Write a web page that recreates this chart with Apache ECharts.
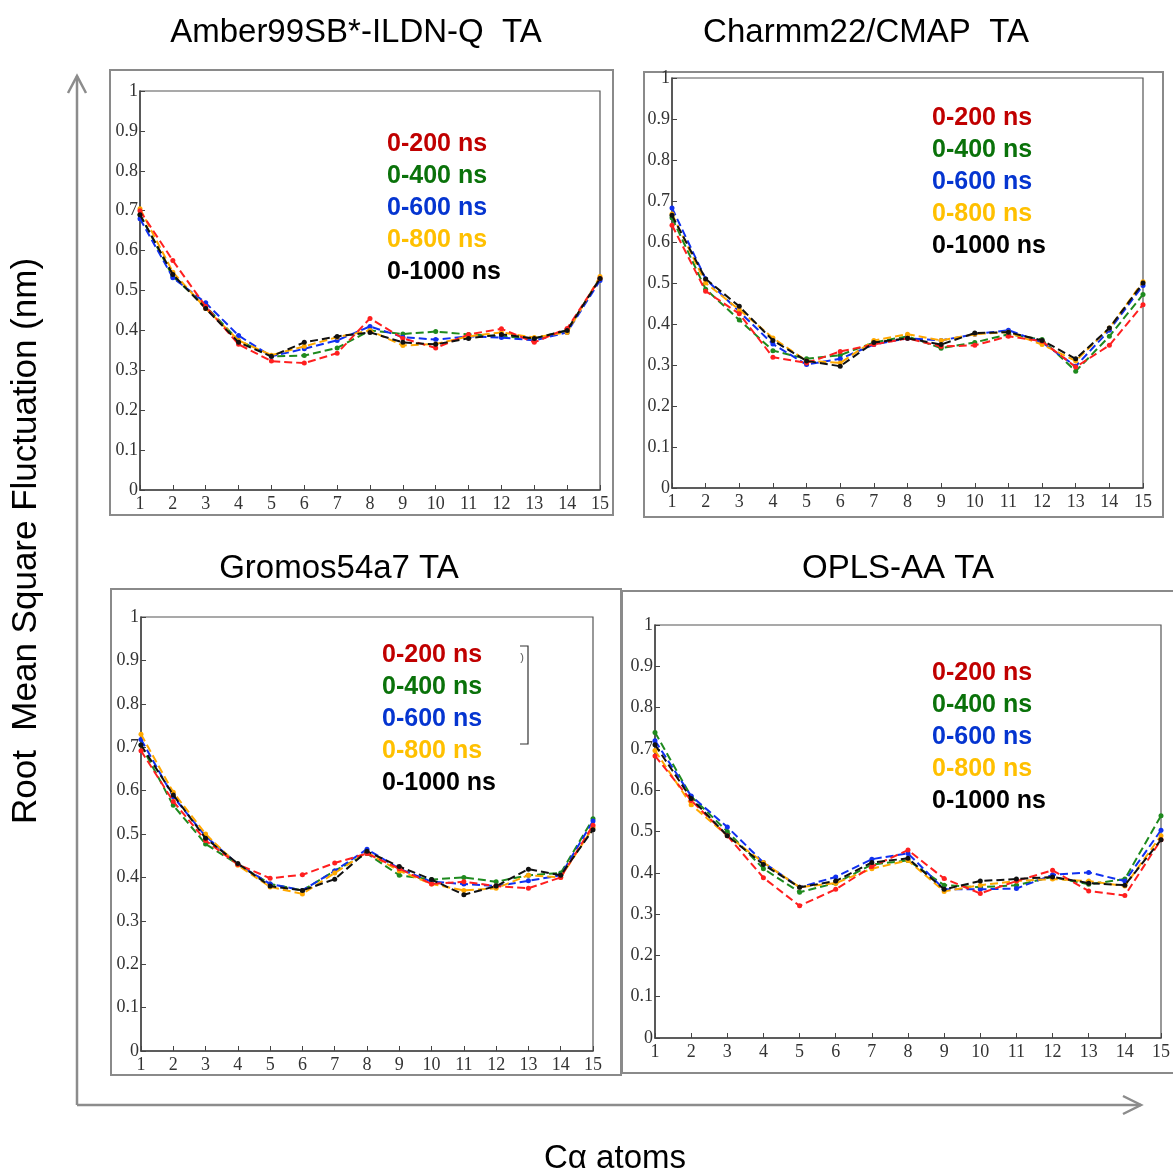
<!DOCTYPE html>
<html>
<head>
<meta charset="utf-8">
<script src="https://cdn.jsdelivr.net/npm/echarts@6/dist/echarts.min.js"></script>
<style>
  html, body { margin: 0; padding: 0; background: #ffffff; }
  #chart { width: 1173px; height: 1176px; }
</style>
</head>
<body>
<div id="chart"></div>
<script>
// Cα atom index along the peptide
const atoms = [1, 2, 3, 4, 5, 6, 7, 8, 9, 10, 11, 12, 13, 14, 15];
// Averaging windows
const periods = ['0-200 ns', '0-400 ns', '0-600 ns', '0-800 ns', '0-1000 ns'];
const panelTitles = ['Amber99SB*-ILDN-Q  TA', 'Charmm22/CMAP  TA', 'Gromos54a7 TA', 'OPLS-AA TA'];
const axisTitleY = 'Root  Mean Square Fluctuation (nm)';
const axisTitleX = 'Cα atoms';

// RMSF (nm) — Amber99SB*-ILDN-Q
const amber200  = [0.700, 0.575, 0.460, 0.365, 0.323, 0.318, 0.343, 0.430, 0.380, 0.356, 0.390, 0.404, 0.370, 0.405, 0.530];
const amber400  = [0.690, 0.535, 0.460, 0.375, 0.335, 0.337, 0.356, 0.400, 0.391, 0.397, 0.390, 0.385, 0.380, 0.400, 0.530];
const amber600  = [0.680, 0.532, 0.469, 0.387, 0.335, 0.354, 0.375, 0.410, 0.383, 0.377, 0.385, 0.382, 0.375, 0.395, 0.525];
const amber800  = [0.705, 0.546, 0.455, 0.375, 0.338, 0.360, 0.383, 0.400, 0.362, 0.366, 0.385, 0.395, 0.382, 0.395, 0.535];
const amber1000 = [0.690, 0.540, 0.455, 0.370, 0.335, 0.370, 0.385, 0.395, 0.370, 0.365, 0.380, 0.390, 0.380, 0.400, 0.530];

// RMSF (nm) — Charmm22/CMAP
const charmm200  = [0.641, 0.480, 0.425, 0.319, 0.305, 0.333, 0.350, 0.365, 0.345, 0.348, 0.370, 0.358, 0.295, 0.348, 0.447];
const charmm400  = [0.659, 0.485, 0.410, 0.335, 0.315, 0.324, 0.355, 0.370, 0.341, 0.355, 0.375, 0.362, 0.285, 0.370, 0.472];
const charmm600  = [0.683, 0.510, 0.430, 0.351, 0.301, 0.315, 0.350, 0.365, 0.360, 0.375, 0.385, 0.355, 0.297, 0.385, 0.494];
const charmm800  = [0.668, 0.500, 0.435, 0.366, 0.310, 0.305, 0.360, 0.375, 0.360, 0.375, 0.380, 0.350, 0.310, 0.390, 0.503];
const charmm1000 = [0.665, 0.510, 0.443, 0.360, 0.310, 0.297, 0.355, 0.365, 0.350, 0.378, 0.380, 0.360, 0.315, 0.390, 0.500];

// RMSF (nm) — Gromos54a7
const gromos200  = [0.692, 0.575, 0.485, 0.430, 0.398, 0.406, 0.433, 0.455, 0.420, 0.385, 0.390, 0.380, 0.375, 0.400, 0.520];
const gromos400  = [0.705, 0.566, 0.477, 0.430, 0.385, 0.370, 0.415, 0.455, 0.405, 0.395, 0.400, 0.390, 0.405, 0.410, 0.535];
const gromos600  = [0.718, 0.586, 0.495, 0.430, 0.385, 0.370, 0.415, 0.465, 0.420, 0.390, 0.385, 0.380, 0.392, 0.405, 0.530];
const gromos800  = [0.730, 0.596, 0.500, 0.428, 0.378, 0.362, 0.410, 0.458, 0.415, 0.385, 0.370, 0.375, 0.405, 0.400, 0.515];
const gromos1000 = [0.705, 0.590, 0.490, 0.432, 0.380, 0.370, 0.396, 0.460, 0.425, 0.395, 0.360, 0.380, 0.419, 0.405, 0.510];

// RMSF (nm) — OPLS-AA
const opls200  = [0.683, 0.575, 0.490, 0.388, 0.320, 0.360, 0.415, 0.455, 0.386, 0.350, 0.380, 0.406, 0.356, 0.345, 0.480];
const opls400  = [0.740, 0.585, 0.500, 0.410, 0.353, 0.375, 0.420, 0.430, 0.370, 0.365, 0.370, 0.390, 0.372, 0.385, 0.538];
const opls600  = [0.720, 0.586, 0.511, 0.425, 0.365, 0.390, 0.433, 0.447, 0.360, 0.360, 0.362, 0.395, 0.401, 0.380, 0.503];
const opls800  = [0.696, 0.565, 0.490, 0.425, 0.365, 0.375, 0.410, 0.430, 0.355, 0.370, 0.380, 0.385, 0.380, 0.368, 0.490];
const opls1000 = [0.710, 0.580, 0.490, 0.420, 0.365, 0.380, 0.425, 0.435, 0.360, 0.380, 0.385, 0.390, 0.375, 0.370, 0.480];

const panelSeries = [
  [amber200, amber400, amber600, amber800, amber1000],
  [charmm200, charmm400, charmm600, charmm800, charmm1000],
  [gromos200, gromos400, gromos600, gromos800, gromos1000],
  [opls200, opls400, opls600, opls800, opls1000]
];

const lineColors  = ['#ff1f1f', '#1e8a1e', '#1030f0', '#ffa800', '#111111'];
const labelColors = ['#c00000', '#0a720a', '#0535d0', '#ffc000', '#000000'];

// Plot areas (px) for the four panels
const grids = [
  { left: 140, top: 91,  width: 460, height: 399 },
  { left: 672, top: 78,  width: 471, height: 410 },
  { left: 141, top: 617, width: 452, height: 434 },
  { left: 655, top: 625, width: 508, height: 413 }
];
// Frames around each panel
const frames = [
  { x: 110, y: 70,  w: 503, h: 445 },
  { x: 644, y: 72,  w: 519, h: 445 },
  { x: 111, y: 589, w: 510, h: 486 },
  { x: 622, y: 591, w: 560, h: 482 }
];
const titlePos  = [[356, 33], [866, 33], [339, 569], [898, 569]];
const legendPos = [[387, 144], [932, 118], [382, 655], [932, 673]];
const legendStep = 32;

const tickFont = { fontFamily: 'Liberation Serif', fontSize: 18, color: '#333333' };

const gridOpts = [], xAxes = [], yAxes = [], series = [], graphics = [];

grids.forEach((g, i) => {
  gridOpts.push({
    left: g.left, top: g.top, width: g.width, height: g.height,
    show: true, borderColor: '#555555', borderWidth: 1.2, backgroundColor: '#ffffff'
  });
  xAxes.push({
    type: 'value', gridIndex: i, min: 1, max: 15, interval: 1,
    axisLine: { show: true, lineStyle: { color: '#444444', width: 1.5 } },
    axisTick: { show: true, inside: true, length: 5, lineStyle: { color: '#444444' } },
    axisLabel: Object.assign({ margin: 5 }, tickFont),
    splitLine: { show: false }
  });
  yAxes.push({
    type: 'value', gridIndex: i, min: 0, max: 1, interval: 0.1,
    axisLine: { show: true, lineStyle: { color: '#444444', width: 1.5 } },
    axisTick: { show: true, inside: true, length: 5, lineStyle: { color: '#444444' } },
    axisLabel: Object.assign({ margin: 2 }, tickFont),
    splitLine: { show: false }
  });
  panelSeries[i].forEach((vals, k) => {
    series.push({
      type: 'line', name: periods[k], xAxisIndex: i, yAxisIndex: i,
      data: atoms.map((a, j) => [a, vals[j]]),
      symbol: 'circle', symbolSize: 5, showSymbol: true,
      itemStyle: { color: lineColors[k] },
      lineStyle: { color: lineColors[k], width: 2, type: [8, 4] },
      z: 3 + (k === 0 ? 4 : k),
      animation: false
    });
  });

  const f = frames[i];
  graphics.push({
    type: 'rect', shape: { x: f.x, y: f.y, width: f.w, height: f.h },
    style: { fill: null, stroke: '#8a8a8a', lineWidth: 2 }, z: 0, silent: true
  });
  graphics.push({
    type: 'text', x: titlePos[i][0], y: titlePos[i][1],
    style: { text: panelTitles[i], fill: '#000000', font: '33px "Liberation Sans", Arial, sans-serif',
             align: 'center', verticalAlign: 'middle' }, z: 10
  });
  periods.forEach((p, k) => {
    graphics.push({
      type: 'text', x: legendPos[i][0], y: legendPos[i][1] + k * legendStep,
      style: { text: p, fill: labelColors[k], font: 'bold 25px "Liberation Sans", Arial, sans-serif',
               align: 'left', verticalAlign: 'middle' }, z: 10
    });
  });
});

// Bracket mark beside the Gromos legend
graphics.push({
  type: 'polyline', shape: { points: [[520, 646], [528, 646], [528, 744], [520, 744]] },
  style: { stroke: '#333333', lineWidth: 1.2, fill: null }, z: 10
});
graphics.push({
  type: 'text', x: 522, y: 658,
  style: { text: ')', fill: '#555555', font: '11px "Liberation Sans", sans-serif', align: 'center', verticalAlign: 'middle' }, z: 10
});

// Shared axes with arrowheads
const arrowStyle = { stroke: '#8c8c8c', lineWidth: 2.5, fill: null };
graphics.push({ type: 'polyline', shape: { points: [[77, 1105], [77, 76]] }, style: arrowStyle, z: 1 });
graphics.push({ type: 'polyline', shape: { points: [[68, 93], [77, 76], [86, 93]] }, style: arrowStyle, z: 1 });
graphics.push({ type: 'polyline', shape: { points: [[77, 1105], [1141, 1105]] }, style: arrowStyle, z: 1 });
graphics.push({ type: 'polyline', shape: { points: [[1123, 1096], [1141, 1105], [1123, 1114]] }, style: arrowStyle, z: 1 });

graphics.push({
  type: 'text', x: 26, y: 541, rotation: Math.PI / 2,
  style: { text: axisTitleY, fill: '#000000', font: '35px "Liberation Sans", Arial, sans-serif',
           align: 'center', verticalAlign: 'middle' }, z: 10
});
graphics.push({
  type: 'text', x: 615, y: 1159,
  style: { text: axisTitleX, fill: '#000000', font: '33px "Liberation Sans", Arial, sans-serif',
           align: 'center', verticalAlign: 'middle' }, z: 10
});

const chart = echarts.init(document.getElementById('chart'), null, { renderer: 'canvas' });
chart.setOption({
  backgroundColor: '#ffffff',
  animation: false,
  grid: gridOpts,
  xAxis: xAxes,
  yAxis: yAxes,
  series: series,
  graphic: graphics
});
</script>
</body>
</html>
